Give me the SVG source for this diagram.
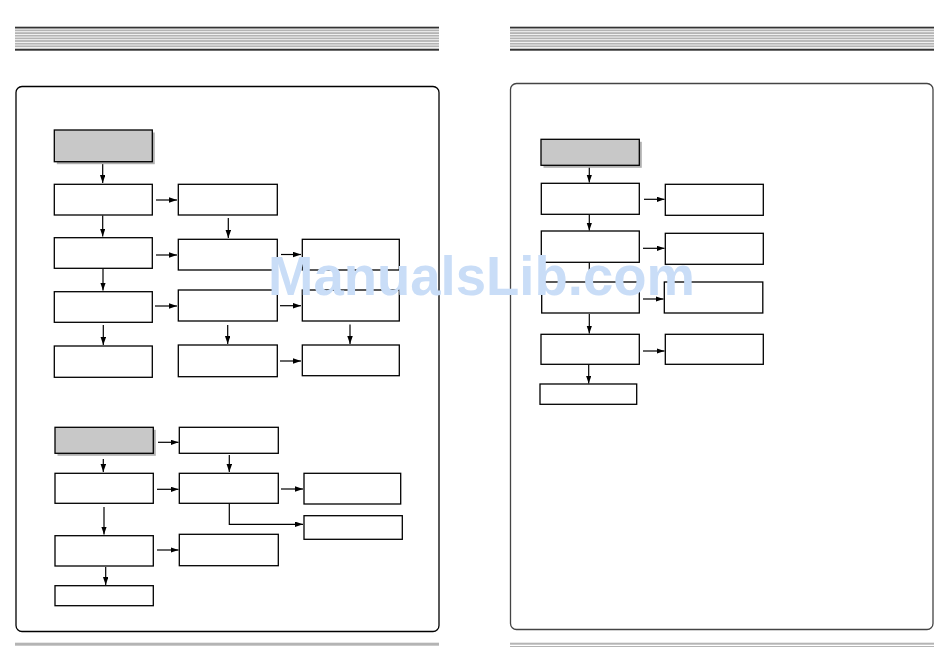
<svg xmlns="http://www.w3.org/2000/svg" width="950" height="660" viewBox="0 0 950 660">
<defs>
<marker id="ah" markerUnits="userSpaceOnUse" markerWidth="9" markerHeight="6" refX="8" refY="2.75" orient="auto">
<path d="M0,0 L8,2.75 L0,5.5 z" fill="#000"/>
</marker>
<style>
.box{fill:#fff;stroke:#000;stroke-width:1.3}
.gbox{fill:#c8c8c8;stroke:#000;stroke-width:1.3}
.shd{fill:#b0b0b0}
.c{fill:none;stroke:#000;stroke-width:1.2;marker-end:url(#ah)}
.dk{fill:#333}
.gr{fill:#b4b4b4}
.wm{font-family:"Liberation Sans",Arial,sans-serif;font-weight:bold;font-size:55px;fill:#c9ddf7}
</style>
</defs>
<rect width="950" height="660" fill="#fff"/>
<g id="header-left">
<rect class="dk" x="15" y="26.7" width="424" height="1.8"/>
<rect class="gr" x="15" y="29.5" width="424" height="1.8"/>
<rect class="gr" x="15" y="32.2" width="424" height="1.8"/>
<rect class="gr" x="15" y="34.8" width="424" height="1.8"/>
<rect class="gr" x="15" y="37.5" width="424" height="1.8"/>
<rect class="gr" x="15" y="40.1" width="424" height="1.8"/>
<rect class="gr" x="15" y="42.8" width="424" height="1.8"/>
<rect class="gr" x="15" y="45.4" width="424" height="1.8"/>
<rect class="dk" x="15" y="48.7" width="424" height="2"/>
</g>
<g id="header-right">
<rect class="dk" x="510" y="26.7" width="424" height="1.8"/>
<rect class="gr" x="510" y="29.5" width="424" height="1.8"/>
<rect class="gr" x="510" y="32.2" width="424" height="1.8"/>
<rect class="gr" x="510" y="34.8" width="424" height="1.8"/>
<rect class="gr" x="510" y="37.5" width="424" height="1.8"/>
<rect class="gr" x="510" y="40.1" width="424" height="1.8"/>
<rect class="gr" x="510" y="42.8" width="424" height="1.8"/>
<rect class="gr" x="510" y="45.4" width="424" height="1.8"/>
<rect class="dk" x="510" y="48.7" width="424" height="2"/>
</g>
<g id="footer">
<rect class="gr" x="15" y="642.7" width="424" height="3"/>
<rect class="gr" x="510" y="642.7" width="424" height="2"/>
<rect class="gr" x="510" y="646" width="424" height="1"/>
</g>
<g id="panel-left"><rect x="16" y="86.5" width="423" height="545" rx="6" fill="none" stroke="#000" stroke-width="1.3"/></g>
<g id="panel-right"><rect x="510.5" y="83.5" width="422.5" height="546" rx="6" fill="none" stroke="#444" stroke-width="1.3"/></g>

<g id="connectors">
<path class="c" d="M102.7,162 V183"/>
<path class="c" d="M156,200 H177"/>
<path class="c" d="M102.7,215.5 V236.5"/>
<path class="c" d="M228.3,218 V238"/>
<path class="c" d="M156,255 H177"/>
<path class="c" d="M281,254.5 H301"/>
<path class="c" d="M103,269 V290.5"/>
<path class="c" d="M155,306 H177"/>
<path class="c" d="M280,305.7 H301"/>
<path class="c" d="M103.3,325 V345"/>
<path class="c" d="M227.7,325 V344"/>
<path class="c" d="M350,324.5 V344"/>
<path class="c" d="M280,361 H301"/>

<path class="c" d="M158,442.3 H178.5"/>
<path class="c" d="M103.3,459 V472"/>
<path class="c" d="M229.3,455 V472"/>
<path class="c" d="M157,489.3 H178.5"/>
<path class="c" d="M281,489 H303"/>
<path class="c" d="M229.3,504 V524.3 H303"/>
<path class="c" d="M104,507 V534.5"/>
<path class="c" d="M157,550 H178.5"/>
<path class="c" d="M105.7,567 V585"/>

<path class="c" d="M589.3,166 V182.5"/>
<path class="c" d="M644,199.3 H664.5"/>
<path class="c" d="M589.3,215 V230.5"/>
<path class="c" d="M643,248.3 H664.5"/>
<path class="c" d="M589.3,263 V281.5"/>
<path class="c" d="M643,299 H663.5"/>
<path class="c" d="M589.3,314 V333.5"/>
<path class="c" d="M643,351 H664.5"/>
<path class="c" d="M588.7,365 V383.5"/>
</g>

<g id="n-l-start"><rect class="shd" x="56.8" y="132.5" width="98" height="31.7"/><rect class="gbox" x="54.3" y="130" width="98" height="31.7"/></g>
<g id="n-l-r1c1"><rect class="box" x="54.3" y="184.3" width="98" height="30.7"/></g>
<g id="n-l-r1c2"><rect class="box" x="178.3" y="184.3" width="99" height="30.7"/></g>
<g id="n-l-r2c1"><rect class="box" x="54.3" y="237.7" width="98" height="30.6"/></g>
<g id="n-l-r2c2"><rect class="box" x="178.3" y="239.3" width="99" height="30.7"/></g>
<g id="n-l-r2c3"><rect class="box" x="302.3" y="239.3" width="97" height="30.7"/></g>
<g id="n-l-r3c1"><rect class="box" x="54.3" y="291.7" width="98" height="30.6"/></g>
<g id="n-l-r3c2"><rect class="box" x="178.3" y="290" width="99" height="31"/></g>
<g id="n-l-r3c3"><rect class="box" x="302.3" y="290" width="97" height="31"/></g>
<g id="n-l-r4c1"><rect class="box" x="54.3" y="346" width="98" height="31.3"/></g>
<g id="n-l-r4c2"><rect class="box" x="178.3" y="345" width="99" height="31.7"/></g>
<g id="n-l-r4c3"><rect class="box" x="302.3" y="345" width="97" height="30.7"/></g>

<g id="n-lb-start"><rect class="shd" x="57.5" y="429.8" width="98.3" height="26"/><rect class="gbox" x="55" y="427.3" width="98.3" height="26"/></g>
<g id="n-lb-r0c2"><rect class="box" x="179.3" y="427.3" width="99" height="26"/></g>
<g id="n-lb-r1c1"><rect class="box" x="55" y="473.3" width="98.3" height="30"/></g>
<g id="n-lb-r1c2"><rect class="box" x="179.3" y="473.3" width="99" height="30"/></g>
<g id="n-lb-r1c3"><rect class="box" x="304" y="473.3" width="96.7" height="30.7"/></g>
<g id="n-lb-r2c3"><rect class="box" x="304" y="515.7" width="98.3" height="23.6"/></g>
<g id="n-lb-r2c1"><rect class="box" x="55" y="535.7" width="98.3" height="30.3"/></g>
<g id="n-lb-r2c2"><rect class="box" x="179.3" y="534.3" width="99" height="31.4"/></g>
<g id="n-lb-r3c1"><rect class="box" x="55" y="585.7" width="98.3" height="20"/></g>

<g id="n-r-start"><rect class="shd" x="543.5" y="141.8" width="98.3" height="26"/><rect class="gbox" x="541" y="139.3" width="98.3" height="26"/></g>
<g id="n-r-r1c1"><rect class="box" x="541.3" y="183.3" width="98" height="31"/></g>
<g id="n-r-r1c2"><rect class="box" x="665.3" y="184.3" width="98" height="31"/></g>
<g id="n-r-r2c1"><rect class="box" x="541.3" y="231" width="98" height="31.3"/></g>
<g id="n-r-r2c2"><rect class="box" x="665.3" y="233.3" width="98" height="31"/></g>
<g id="n-r-r3c1"><rect class="box" x="541.7" y="282" width="97.6" height="31"/></g>
<g id="n-r-r3c2"><rect class="box" x="664.3" y="282" width="98.5" height="31"/></g>
<g id="n-r-r4c1"><rect class="box" x="541" y="334.3" width="98.3" height="30"/></g>
<g id="n-r-r4c2"><rect class="box" x="665.3" y="334.3" width="98" height="30"/></g>
<g id="n-r-r5c1"><rect class="box" x="540" y="384" width="96.7" height="20.3"/></g>

<text class="wm" x="268" y="295" textLength="427" lengthAdjust="spacingAndGlyphs">ManualsLib.com</text>
</svg>
